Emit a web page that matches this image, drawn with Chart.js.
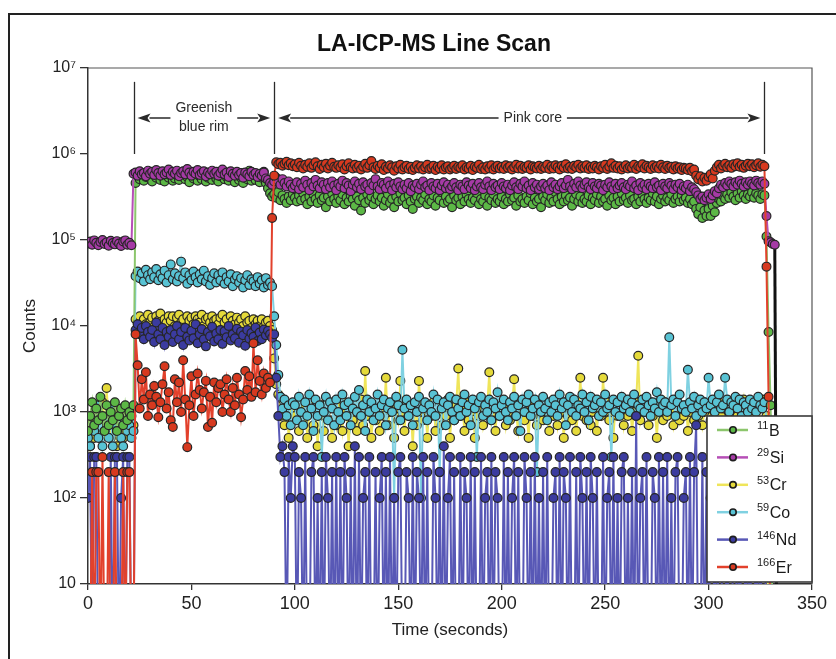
<!DOCTYPE html>
<html><head><meta charset="utf-8">
<script src="https://cdn.jsdelivr.net/npm/chart.js@4.4.1/dist/chart.umd.min.js"></script>
<style>html,body{margin:0;padding:0;background:#fff;}canvas{display:block;}</style>
</head><body>
<canvas id="c" width="836" height="659"></canvas>
<script>
// ---------- DATA (counts per sweep; 0 = no counts detected) ----------
const time = [
0,1,2,3,4,5,6,7,8,9,10,11,12,13,14,15,16,17,18,19,
20,21,22,23,24,25,26,27,28,29,30,31,32,33,34,35,36,37,38,39,
40,41,42,43,44,45,46,47,48,49,50,51,52,53,54,55,56,57,58,59,
60,61,62,63,64,65,66,67,68,69,70,71,72,73,74,75,76,77,78,79,
80,81,82,83,84,85,86,87,88,89,90,91,92,93,94,95,96,97,98,99,
100,101,102,103,104,105,106,107,108,109,110,111,112,113,114,115,116,117,118,119,
120,121,122,123,124,125,126,127,128,129,130,131,132,133,134,135,136,137,138,139,
140,141,142,143,144,145,146,147,148,149,150,151,152,153,154,155,156,157,158,159,
160,161,162,163,164,165,166,167,168,169,170,171,172,173,174,175,176,177,178,179,
180,181,182,183,184,185,186,187,188,189,190,191,192,193,194,195,196,197,198,199,
200,201,202,203,204,205,206,207,208,209,210,211,212,213,214,215,216,217,218,219,
220,221,222,223,224,225,226,227,228,229,230,231,232,233,234,235,236,237,238,239,
240,241,242,243,244,245,246,247,248,249,250,251,252,253,254,255,256,257,258,259,
260,261,262,263,264,265,266,267,268,269,270,271,272,273,274,275,276,277,278,279,
280,281,282,283,284,285,286,287,288,289,290,291,292,293,294,295,296,297,298,299,
300,301,302,303,304,305,306,307,308,309,310,311,312,313,314,315,316,317,318,319,
320,321,322,323,324,325,326,327,328,329,330,331,332,333];

const b11 = [
600,900,1300,700,1100,800,1500,900,600,1200,700,1000,800,1300,600,900,1100,700,1200,800,
1000,900,1200,4.6e5,5.6e5,5.1e5,5.8e5,4.9e5,5.4e5,6.0e5,5.2e5,4.8e5,5.7e5,5.3e5,6.1e5,5.0e5,5.5e5,4.8e5,5.9e5,5.3e5,
5.6e5,4.9e5,5.2e5,5.8e5,5.0e5,5.5e5,6.2e5,5.1e5,5.4e5,4.7e5,5.7e5,5.2e5,6.0e5,4.9e5,5.5e5,5.1e5,5.8e5,4.8e5,5.3e5,5.6e5,
5.0e5,5.7e5,5.2e5,4.8e5,5.5e5,6.3e5,5.1e5,5.4e5,4.9e5,5.6e5,5.2e5,4.7e5,5.8e5,5.0e5,5.3e5,4.6e5,5.5e5,5.1e5,6.4e5,4.9e5,
5.4e5,5.0e5,5.7e5,4.7e5,5.3e5,6.2e5,4.6e5,4.0e5,3.5e5,3.2e5,3.4e5,3.1e5,3.6e5,2.9e5,3.3e5,3.0e5,2.7e5,3.2e5,2.9e5,3.4e5,
3.1e5,2.8e5,3.3e5,2.9e5,3.5e5,3.0e5,2.6e5,3.2e5,2.8e5,3.4e5,3.0e5,2.7e5,3.3e5,2.9e5,3.1e5,2.4e5,3.2e5,2.8e5,3.5e5,3.0e5,
2.7e5,3.2e5,2.9e5,3.4e5,2.6e5,3.1e5,2.8e5,3.3e5,3.0e5,2.5e5,3.2e5,2.9e5,2.2e5,3.1e5,2.7e5,3.4e5,2.9e5,3.2e5,2.6e5,3.0e5,
3.3e5,2.8e5,3.1e5,2.5e5,2.9e5,3.4e5,2.7e5,3.0e5,2.4e5,3.2e5,2.8e5,3.5e5,2.9e5,3.1e5,2.6e5,3.3e5,2.8e5,2.3e5,3.0e5,3.2e5,
2.7e5,3.1e5,2.9e5,3.4e5,2.6e5,3.0e5,2.8e5,3.3e5,2.5e5,3.1e5,2.9e5,3.6e5,2.7e5,3.2e5,2.8e5,3.0e5,2.4e5,3.3e5,2.9e5,3.1e5,
2.6e5,3.2e5,2.8e5,3.4e5,3.0e5,2.7e5,3.1e5,2.9e5,3.5e5,2.6e5,3.0e5,2.8e5,3.3e5,2.5e5,3.1e5,2.9e5,3.4e5,2.7e5,3.0e5,2.8e5,
3.2e5,2.6e5,3.0e5,2.8e5,3.4e5,2.9e5,3.1e5,2.5e5,3.3e5,2.8e5,3.0e5,2.7e5,3.2e5,2.9e5,3.5e5,2.6e5,3.1e5,2.8e5,3.0e5,2.4e5,
3.2e5,2.9e5,3.4e5,2.7e5,3.1e5,2.8e5,3.6e5,3.0e5,2.6e5,3.2e5,2.8e5,3.3e5,2.9e5,3.1e5,2.5e5,3.0e5,3.4e5,2.8e5,3.2e5,2.7e5,
3.0e5,2.8e5,3.3e5,2.6e5,3.1e5,2.9e5,3.4e5,2.7e5,3.2e5,2.8e5,3.0e5,2.5e5,3.3e5,2.9e5,3.1e5,2.6e5,3.2e5,2.8e5,3.5e5,2.9e5,
3.1e5,2.7e5,3.3e5,2.9e5,3.0e5,2.6e5,3.2e5,2.8e5,3.4e5,3.0e5,2.7e5,3.1e5,2.9e5,3.5e5,2.8e5,3.2e5,2.6e5,3.0e5,3.3e5,2.8e5,
3.1e5,2.9e5,3.4e5,2.7e5,3.0e5,3.2e5,2.8e5,3.3e5,2.9e5,3.1e5,2.7e5,3.0e5,2.6e5,2.8e5,2.3e5,2.0e5,2.4e5,1.8e5,2.2e5,1.9e5,
2.3e5,1.9e5,2.5e5,2.1e5,2.7e5,3.0e5,2.8e5,3.3e5,3.0e5,3.4e5,3.1e5,3.6e5,3.2e5,2.9e5,3.5e5,3.1e5,3.7e5,3.3e5,3.0e5,3.4e5,
3.2e5,3.6e5,3.1e5,3.5e5,3.3e5,3.0e5,3.4e5,3.3e5,1.1e5,8500,1200,0,0,0];

const si29 = [
9.1e4,9.6e4,8.8e4,9.9e4,9.3e4,8.7e4,9.5e4,1.0e5,9.0e4,9.4e4,8.6e4,9.8e4,9.2e4,8.9e4,9.7e4,9.1e4,8.5e4,9.6e4,9.9e4,8.8e4,
9.3e4,8.7e4,5.9e5,6.1e5,5.6e5,6.3e5,5.8e5,6.0e5,5.5e5,6.4e5,5.9e5,6.2e5,5.7e5,6.5e5,6.0e5,5.6e5,6.3e5,5.8e5,6.1e5,6.6e5,
5.7e5,6.2e5,5.9e5,6.4e5,5.5e5,6.0e5,6.3e5,5.8e5,6.7e5,6.1e5,5.6e5,6.2e5,5.9e5,6.5e5,5.7e5,6.0e5,6.3e5,5.5e5,6.1e5,5.8e5,
6.4e5,5.9e5,6.2e5,5.6e5,6.0e5,6.6e5,5.8e5,6.1e5,5.4e5,6.3e5,5.9e5,5.6e5,6.2e5,5.7e5,6.0e5,5.3e5,6.1e5,5.8e5,5.5e5,6.2e5,
5.7e5,6.0e5,5.4e5,5.9e5,5.6e5,6.1e5,5.2e5,5.0e5,4.6e5,4.4e5,4.8e5,5.3e5,4.9e5,4.4e5,5.1e5,4.6e5,4.2e5,4.8e5,4.4e5,4.0e5,
4.3e5,4.7e5,3.9e5,4.5e5,4.1e5,4.9e5,4.4e5,3.8e5,4.6e5,4.2e5,5.0e5,4.3e5,4.0e5,4.7e5,4.4e5,3.9e5,4.6e5,4.1e5,4.8e5,4.3e5,
3.8e5,4.5e5,4.2e5,4.9e5,4.0e5,4.6e5,4.3e5,3.7e5,4.4e5,4.8e5,4.1e5,4.5e5,3.9e5,4.7e5,4.2e5,4.4e5,3.8e5,4.6e5,4.3e5,5.1e5,
4.2e5,3.9e5,4.6e5,4.4e5,4.0e5,4.8e5,4.3e5,3.8e5,4.5e5,4.1e5,4.7e5,4.2e5,3.9e5,4.4e5,4.0e5,4.6e5,3.7e5,4.3e5,4.1e5,4.5e5,
3.9e5,4.4e5,4.8e5,4.1e5,4.3e5,3.8e5,4.6e5,4.2e5,4.0e5,4.5e5,3.8e5,4.3e5,4.7e5,4.0e5,4.4e5,3.9e5,4.2e5,4.6e5,4.1e5,3.8e5,
4.4e5,4.2e5,3.9e5,4.7e5,4.3e5,4.0e5,4.5e5,3.8e5,4.2e5,4.6e5,4.1e5,3.9e5,4.4e5,4.8e5,4.2e5,3.8e5,4.5e5,4.1e5,4.3e5,3.9e5,
4.6e5,4.2e5,4.0e5,4.4e5,3.8e5,4.3e5,4.7e5,4.1e5,3.9e5,4.5e5,4.2e5,4.8e5,4.0e5,4.3e5,3.8e5,4.6e5,4.1e5,4.4e5,3.9e5,4.2e5,
4.5e5,4.0e5,4.3e5,3.8e5,4.7e5,4.1e5,4.4e5,3.9e5,4.2e5,4.6e5,4.0e5,4.3e5,5.0e5,4.2e5,3.9e5,4.5e5,4.1e5,4.8e5,4.3e5,4.0e5,
4.4e5,4.7e5,4.1e5,3.9e5,4.6e5,4.2e5,4.0e5,4.5e5,4.3e5,3.8e5,4.4e5,4.1e5,4.7e5,4.2e5,3.9e5,4.5e5,4.0e5,4.3e5,4.6e5,4.1e5,
3.9e5,4.4e5,4.2e5,4.8e5,4.0e5,4.3e5,3.8e5,4.6e5,4.1e5,4.4e5,3.9e5,4.5e5,4.2e5,4.0e5,4.7e5,4.1e5,4.3e5,3.8e5,4.5e5,4.2e5,
4.0e5,4.6e5,4.3e5,3.9e5,4.4e5,4.1e5,4.5e5,3.8e5,4.2e5,4.0e5,4.4e5,3.7e5,4.1e5,3.9e5,3.6e5,3.3e5,3.0e5,3.2e5,2.9e5,3.1e5,
3.4e5,3.0e5,3.3e5,3.7e5,3.5e5,4.0e5,4.4e5,4.1e5,4.6e5,4.3e5,4.8e5,4.5e5,4.2e5,4.7e5,4.4e5,4.9e5,4.5e5,4.2e5,4.7e5,4.4e5,
4.8e5,4.5e5,4.3e5,4.9e5,4.6e5,4.4e5,4.8e5,4.5e5,1.9e5,9.7e4,9.4e4,9.0e4,8.8e4,0];

const cr53 = [
600,400,800,500,1000,700,500,1300,600,1900,800,500,700,1100,400,600,900,500,800,700,
1000,600,700,1.2e4,1.1e4,1.3e4,9500,1.2e4,1.05e4,1.35e4,1.1e4,1.25e4,9800,1.3e4,1.15e4,1.4e4,1.05e4,1.2e4,1.1e4,1.3e4,
1.15e4,1.3e4,1.0e4,1.25e4,1.35e4,1.1e4,1.2e4,9600,1.3e4,1.15e4,1.25e4,1.05e4,1.3e4,1.2e4,1.1e4,1.35e4,1.0e4,1.2e4,1.25e4,1.1e4,
1.3e4,1.15e4,1.2e4,1.05e4,1.25e4,1.35e4,1.1e4,1.2e4,9800,1.3e4,1.15e4,1.05e4,1.25e4,1.1e4,1.2e4,1.0e4,1.3e4,1.1e4,1.15e4,9500,
1.2e4,1.05e4,1.15e4,1.0e4,1.2e4,9800,1.1e4,1.15e4,1.0e4,9000,4200,2100,1600,900,1400,700,1200,500,1000,800,
900,1300,600,1100,800,1200,500,1000,1400,700,1100,400,900,1200,600,1000,1300,800,500,1100,
700,1200,900,600,1300,1000,400,1100,800,1200,600,1000,1400,700,3000,900,1200,500,1000,800,
1100,600,1300,900,2500,700,1000,1200,500,1100,800,2300,1000,600,1300,900,1100,400,1200,700,
2300,1000,800,1200,500,1100,900,1300,600,1000,1200,700,1100,900,1400,500,1000,800,1200,3200,
900,1100,600,1300,800,1000,1200,500,1100,900,1300,700,1000,1200,2900,800,1100,600,1200,900,
1000,1300,700,1100,800,1200,2400,900,600,1100,1300,800,1000,500,1200,900,1100,700,1300,1000,
800,1200,1000,600,1300,900,1100,700,1200,1000,500,1300,900,1100,800,1200,600,1000,2500,900,
1100,800,1300,700,1000,1200,600,1100,900,2500,1000,1300,800,1100,500,1200,900,1000,1300,700,
1100,900,1200,600,1000,1300,4500,800,1100,1000,1200,700,1300,900,1100,500,1200,1000,800,1300,
900,1100,1200,700,1000,1300,800,1100,900,1200,600,1000,1300,800,1100,900,1200,700,1000,1300,
1100,800,1200,1000,600,1300,900,1100,1200,700,1000,1300,800,1100,900,1200,1000,1400,800,1100,
1000,1300,900,1200,700,1100,1400,1300,900,0,0,0,0,0];

const co59 = [
500,400,700,600,1200,500,900,400,600,800,500,1100,400,700,600,900,500,400,800,600,
700,500,600,3.8e4,4.3e4,3.6e4,4.1e4,3.3e4,4.5e4,3.9e4,3.5e4,4.2e4,3.7e4,4.6e4,3.4e4,4.0e4,3.6e4,4.4e4,3.2e4,3.9e4,
5.2e4,3.5e4,4.1e4,3.3e4,3.8e4,5.6e4,3.6e4,4.2e4,3.1e4,3.9e4,3.4e4,4.3e4,3.7e4,3.2e4,4.0e4,3.5e4,4.4e4,3.3e4,3.8e4,3.0e4,
3.6e4,4.1e4,3.2e4,3.9e4,3.4e4,4.2e4,3.1e4,3.7e4,3.3e4,4.0e4,2.9e4,3.5e4,3.8e4,3.2e4,3.6e4,2.8e4,3.4e4,3.9e4,3.0e4,3.5e4,
3.3e4,2.9e4,3.7e4,3.1e4,3.4e4,2.8e4,3.6e4,3.0e4,3.2e4,2.9e4,1.3e4,6000,2700,1500,1100,1400,900,1200,700,1300,
1200,800,1500,1000,700,1300,900,1600,1100,600,1400,900,1200,300,1000,1500,800,1300,1100,700,
1400,1000,800,1600,1200,900,1300,700,1100,1500,1000,1800,900,1200,600,1400,1000,1300,800,1100,
1600,900,1200,1400,700,1100,1300,1000,100,1500,1200,800,5300,1100,1400,900,1200,700,1300,1000,
1500,100,1100,1300,800,1200,1000,1600,900,1400,200,1100,1300,700,1200,1500,1000,800,1400,1100,
900,1300,1600,1000,1200,700,1400,1100,300,1300,1500,900,1200,1000,1400,800,1300,1100,1700,900,
1200,1400,1000,800,1300,1100,1500,900,1200,600,1400,1000,1300,1600,900,1100,1400,200,1200,1000,
1500,1100,800,1300,1000,1400,1200,900,1600,1100,1300,700,1200,1500,1000,1400,900,1200,1100,1600,
1000,1300,800,1500,1100,1200,1400,900,1300,1000,1600,1100,1200,300,1400,1000,1300,900,1500,1100,
1200,1400,1000,1300,1600,900,1200,1100,1400,1000,1500,1200,900,1300,1100,1700,1000,1400,1200,1300,
1000,7400,1200,1400,900,1300,1600,1100,1200,1000,3100,1300,1100,1500,900,1200,1400,1000,1300,1100,
2500,1200,1400,1000,1300,1600,1100,1200,2500,1400,1000,1300,1200,1500,1100,1400,900,1300,1200,1000,
1400,1100,1300,1000,1500,1200,1100,1300,800,300,0,0,0,0];

const nd146 = [
100,300,0,300,300,0,0,0,0,0,0,300,0,300,300,0,100,300,0,300,
300,0,0,9000,1.05e4,8000,9500,7000,1.0e4,8500,7500,9000,6500,1.1e4,8000,7000,9500,6000,8500,7500,
9000,6500,8000,1.0e4,7000,8500,6000,9500,7500,6800,8800,7200,1.05e4,6300,8000,9200,7000,5800,8500,7600,
9800,6600,8200,7000,9000,6200,8700,7400,1.0e4,6800,8000,7200,9300,6400,8600,7800,5900,9000,7100,8300,
7500,9600,6700,8400,7000,9100,7800,8800,8000,7300,8000,2500,900,300,400,200,0,300,100,400,
300,0,200,100,0,300,0,0,200,300,0,100,0,200,0,300,100,0,200,0,
300,0,200,0,300,100,0,200,0,400,0,300,0,100,200,0,300,0,0,200,
0,100,300,0,200,0,300,0,100,0,200,300,0,0,200,100,0,300,0,200,
100,0,300,0,200,0,0,300,100,0,200,0,400,0,100,300,0,200,0,0,
300,0,200,100,0,300,0,200,0,0,300,0,100,200,0,300,0,200,100,0,
0,300,0,200,0,100,300,0,200,0,0,300,100,0,200,0,300,0,100,0,
200,0,300,0,0,100,200,0,300,0,200,100,0,300,0,0,200,0,300,100,
0,200,0,300,100,0,200,0,0,300,0,100,200,0,300,0,100,0,200,300,
0,100,0,200,0,900,0,100,200,0,300,0,0,200,100,0,300,0,200,0,
300,0,100,0,200,300,0,0,100,200,0,300,0,200,700,0,0,300,0,200,
0,100,300,0,200,0,0,300,100,0,200,300,0,0,200,0,100,300,0,200,
0,300,100,0,200,0,300,200,0,0,0,0,0,0];

const er166 = [
0,0,200,0,200,200,0,300,0,0,200,0,0,200,0,0,0,200,0,200,
200,0,0,8000,3500,1100,2400,1400,2900,900,1600,1200,2000,1500,870,1300,2100,3400,1100,1700,
800,670,2400,1300,2200,1000,4000,1400,390,1200,2600,900,1600,2800,1800,1100,1700,2300,670,1500,
750,2200,1300,1900,2100,1000,1600,2400,1400,1000,1900,1200,2500,1600,870,1400,3000,1800,2600,1500,
6300,1700,4000,2300,1600,2800,1900,2500,2200,1.8e5,5.6e5,8.0e5,7.6e5,7.9e5,7.3e5,7.7e5,8.1e5,7.4e5,7.8e5,7.2e5,
7.6e5,7.0e5,7.9e5,7.3e5,6.8e5,7.5e5,7.1e5,7.8e5,6.9e5,7.4e5,8.0e5,7.2e5,6.7e5,7.5e5,7.0e5,7.7e5,6.8e5,7.3e5,7.9e5,7.1e5,
6.9e5,7.4e5,7.0e5,7.6e5,6.6e5,7.2e5,7.8e5,7.0e5,6.8e5,7.5e5,6.9e5,7.3e5,6.6e5,7.1e5,7.7e5,6.9e5,7.4e5,8.3e5,7.0e5,6.7e5,
7.3e5,6.9e5,7.6e5,6.5e5,7.1e5,6.8e5,7.4e5,7.0e5,6.4e5,7.2e5,6.8e5,7.5e5,6.6e5,7.0e5,7.3e5,6.7e5,7.1e5,6.5e5,6.9e5,7.4e5,
6.8e5,7.2e5,6.6e5,7.0e5,7.5e5,6.7e5,6.9e5,7.3e5,6.5e5,7.1e5,6.8e5,7.4e5,6.6e5,7.0e5,7.2e5,6.6e5,6.9e5,7.3e5,6.7e5,7.1e5,
6.9e5,7.4e5,6.6e5,7.0e5,6.8e5,7.3e5,6.5e5,7.1e5,6.9e5,7.5e5,6.7e5,7.0e5,6.6e5,7.2e5,6.8e5,7.4e5,6.6e5,7.0e5,7.3e5,6.8e5,
7.1e5,6.7e5,7.4e5,6.9e5,7.2e5,6.6e5,7.0e5,7.5e5,6.8e5,7.3e5,6.7e5,7.1e5,6.9e5,7.4e5,6.6e5,7.2e5,7.0e5,6.8e5,7.3e5,6.7e5,
7.1e5,6.9e5,7.5e5,6.7e5,7.2e5,6.8e5,7.4e5,7.0e5,6.6e5,7.3e5,6.9e5,7.6e5,6.8e5,7.1e5,6.7e5,7.3e5,7.0e5,7.5e5,6.8e5,7.2e5,
6.9e5,7.4e5,6.7e5,7.1e5,6.8e5,7.3e5,7.0e5,6.6e5,7.2e5,6.9e5,7.5e5,6.7e5,7.1e5,7.8e5,6.9e5,7.3e5,6.8e5,7.2e5,6.6e5,7.0e5,
7.4e5,6.8e5,7.1e5,6.9e5,7.5e5,6.7e5,7.2e5,7.0e5,7.6e5,6.8e5,7.3e5,7.0e5,6.7e5,7.4e5,6.9e5,7.2e5,6.8e5,7.5e5,7.0e5,6.7e5,
7.3e5,6.9e5,7.1e5,6.6e5,7.2e5,6.8e5,7.0e5,6.5e5,6.9e5,6.8e5,6.5e5,6.9e5,6.3e5,6.6e5,5.6e5,5.1e5,5.5e5,4.8e5,5.3e5,4.9e5,
5.4e5,5.8e5,5.2e5,6.4e5,7.0e5,7.5e5,6.8e5,7.3e5,7.7e5,7.0e5,7.4e5,6.9e5,7.6e5,7.2e5,7.8e5,7.1e5,7.5e5,6.9e5,7.3e5,7.7e5,
7.2e5,7.6e5,7.0e5,7.4e5,7.8e5,7.1e5,7.5e5,7.2e5,4.9e4,1500,0,0,0,0];

const seriesLabels = ['¹¹B','²⁹Si','⁵³Cr','⁵⁹Co','¹⁴⁶Nd','¹⁶⁶Er'];
const legendMass = ['11','29','53','59','146','166'];
const legendElement = ['B','Si','Cr','Co','Nd','Er'];
const xTicks = [0,50,100,150,200,250,300,350];
const yTicks = [10,100,1e3,1e4,1e5,1e6,1e7];
const yTickLabels = ['10','10²','10³','10⁴','10⁵','10⁶','10⁷'];
const boundaryTimes = [22,90,327];
const zoneNames = [['Greenish','blue rim'],['Pink core']];

// ---------- STYLE ----------
const FONT = "'Liberation Sans', Arial, sans-serif";
const ZERO_FLOOR = 1; // zero counts plotted below the axis floor (log scale)
const styles = [
  {line:'#8cc66c', fill:'#5cb846', order:3},
  {line:'#b64fb6', fill:'#a53aa5', order:2},
  {line:'#efe55a', fill:'#e5da3a', order:5},
  {line:'#7fd1e1', fill:'#58c3d4', order:4},
  {line:'#5858b6', fill:'#3b3b9f', order:1},
  {line:'#e2412c', fill:'#d7391f', order:0}
];
const seriesData = [b11, si29, cr53, co59, nd146, er166];
const annot = {lineTop:6.9e6, lineBottom:1.0e6, arrowLevel:2.62e6,
  zones:[{from:22,to:90,center:56},{from:90,to:327,center:215}]};

const datasets = seriesData.map((arr, i) => ({
  label: seriesLabels[i],
  data: arr.map(v => v > 0 ? v : ZERO_FLOOR),
  borderColor: styles[i].line,
  backgroundColor: styles[i].fill,
  borderWidth: 2,
  pointRadius: c => (c.raw >= 10 ? 4.4 : 0),
  pointBackgroundColor: styles[i].fill,
  pointBorderColor: '#262626',
  pointBorderWidth: 1.2,
  tension: 0,
  order: styles[i].order,
  segment: i === 1 ? {
    borderColor: c => (c.p1DataIndex === arr.length - 1 ? '#111' : undefined),
    borderWidth: c => (c.p1DataIndex === arr.length - 1 ? 3 : undefined)
  } : undefined
}));

const framePlugin = {
  id: 'frames',
  beforeDraw(chart) {
    const ctx = chart.ctx;
    ctx.save();
    ctx.fillStyle = '#fff';
    ctx.fillRect(0, 0, chart.width, chart.height);
    ctx.strokeStyle = '#222';
    ctx.lineWidth = 2;
    ctx.strokeRect(9, 14, chart.width + 10, chart.height + 10);
    ctx.restore();
  },
  afterLayout(chart) {
    if (chart.titleBlock) { chart.titleBlock.left = 56; }
  },
  afterDatasetsDraw(chart) {
    const ctx = chart.ctx, ca = chart.chartArea;
    const xs = chart.scales.x, ys = chart.scales.y;
    ctx.save();
    ctx.strokeStyle = '#555'; ctx.lineWidth = 1.2;
    ctx.beginPath();
    ctx.moveTo(ca.left, ca.top); ctx.lineTo(ca.right, ca.top); ctx.lineTo(ca.right, ca.bottom);
    ctx.stroke();
    const yTop = ys.getPixelForValue(annot.lineTop), yBot = ys.getPixelForValue(annot.lineBottom);
    const yA = ys.getPixelForValue(annot.arrowLevel);
    ctx.strokeStyle = '#2a2a2a'; ctx.lineWidth = 1.3;
    boundaryTimes.forEach(t => {
      const x = Math.round(xs.getPixelForValue(t)) + 0.5;
      ctx.beginPath(); ctx.moveTo(x, yTop); ctx.lineTo(x, yBot); ctx.stroke();
    });
    ctx.font = '14px ' + FONT;
    ctx.fillStyle = '#2a2a2a';
    ctx.textAlign = 'center'; ctx.textBaseline = 'middle';
    const head = 13, half = 4.5;
    annot.zones.forEach((z, zi) => {
      const lines = zoneNames[zi];
      const xl = xs.getPixelForValue(z.from) + 4, xr = xs.getPixelForValue(z.to) - 4;
      const xc = xs.getPixelForValue(z.center);
      const tw = Math.max(...lines.map(s => ctx.measureText(s).width));
      const gL = xc - tw / 2 - 5, gR = xc + tw / 2 + 5;
      ctx.lineWidth = 1.5;
      ctx.beginPath(); ctx.moveTo(xl + head - 1, yA); ctx.lineTo(gL, yA);
      ctx.moveTo(gR, yA); ctx.lineTo(xr - head + 1, yA); ctx.stroke();
      ctx.beginPath(); ctx.moveTo(xl, yA); ctx.lineTo(xl + head, yA - half); ctx.lineTo(xl + head - 3, yA); ctx.lineTo(xl + head, yA + half); ctx.closePath(); ctx.fill();
      ctx.beginPath(); ctx.moveTo(xr, yA); ctx.lineTo(xr - head, yA - half); ctx.lineTo(xr - head + 3, yA); ctx.lineTo(xr - head, yA + half); ctx.closePath(); ctx.fill();
      if (lines.length === 1) {
        ctx.fillText(lines[0], xc, yA);
      } else {
        ctx.fillText(lines[0], xc, yA - 10);
        ctx.fillText(lines[1], xc, yA + 9.5);
      }
    });
    ctx.restore();
  },
  afterDraw(chart) {
    const ctx = chart.ctx, ca = chart.chartArea;
    const w = 105, h = 166, rowH = 27.4;
    const x0 = ca.right - w, y0 = ca.bottom - h - 2;
    ctx.save();
    ctx.fillStyle = '#fff'; ctx.fillRect(x0, y0, w, h);
    ctx.strokeStyle = '#3a3a3a'; ctx.lineWidth = 1.6; ctx.strokeRect(x0, y0, w, h);
    legendElement.forEach((el, i) => {
      const cy = y0 + 14 + i * rowH;
      ctx.strokeStyle = styles[i].line; ctx.lineWidth = 2.5;
      ctx.beginPath(); ctx.moveTo(x0 + 10, cy); ctx.lineTo(x0 + 41, cy); ctx.stroke();
      ctx.beginPath(); ctx.arc(x0 + 26, cy, 3.2, 0, Math.PI * 2);
      ctx.fillStyle = styles[i].fill; ctx.fill();
      ctx.strokeStyle = '#1e1e1e'; ctx.lineWidth = 1.6; ctx.stroke();
      ctx.fillStyle = '#1a1a1a'; ctx.textAlign = 'left'; ctx.textBaseline = 'alphabetic';
      ctx.font = '11px ' + FONT;
      ctx.fillText(legendMass[i], x0 + 50, cy - 1);
      const sw = ctx.measureText(legendMass[i]).width;
      ctx.font = '16px ' + FONT;
      ctx.fillText(el, x0 + 50 + sw + 0.5, cy + 5.5);
    });
    ctx.restore();
  }
};

Chart.defaults.font.family = FONT;
Chart.defaults.color = '#222';

new Chart(document.getElementById('c'), {
  type: 'line',
  data: { labels: time, datasets },
  options: {
    responsive: false, animation: false, devicePixelRatio: 1, events: [],
    layout: { padding: { left: 0, right: 24, top: 0, bottom: 0 } },
    plugins: {
      legend: { display: false },
      tooltip: { enabled: false },
      title: { display: true, text: 'LA-ICP-MS Line Scan', color: '#111',
        font: { size: 23, weight: 'bold', family: FONT, lineHeight: 1.2 },
        padding: { top: 31.2, bottom: 9.2 } }
    },
    scales: {
      x: {
        type: 'linear', min: 0, max: 350,
        afterBuildTicks: s => { s.ticks = xTicks.map(v => ({ value: v })); },
        afterFit: s => { s.height = 75; },
        ticks: { autoSkip: false, maxRotation: 0, padding: 3, color: '#222', font: { size: 18 } },
        grid: { drawOnChartArea: false, drawTicks: true, tickLength: 6, color: '#333', lineWidth: 1.3 },
        border: { display: true, color: '#333', width: 1.5 },
        title: { display: true, text: 'Time (seconds)', color: '#222', font: { size: 17 }, padding: { top: 0, bottom: 18 } }
      },
      y: {
        type: 'logarithmic', min: 10, max: 1e7,
        afterBuildTicks: s => { s.ticks = yTicks.map(v => ({ value: v })); },
        afterFit: s => { s.width = 88; },
        ticks: { autoSkip: false, padding: 4, color: '#222', font: { size: 16 },
          callback: v => { const k = yTicks.indexOf(v); return k >= 0 ? yTickLabels[k] : ''; } },
        grid: { drawOnChartArea: false, drawTicks: true, tickLength: 8, color: '#333', lineWidth: 1.3 },
        border: { display: true, color: '#333', width: 1.5 },
        title: { display: true, text: 'Counts', color: '#222', font: { size: 17 }, padding: { top: 20, bottom: 0 } }
      }
    }
  },
  plugins: [framePlugin]
});
</script>
</body></html>
